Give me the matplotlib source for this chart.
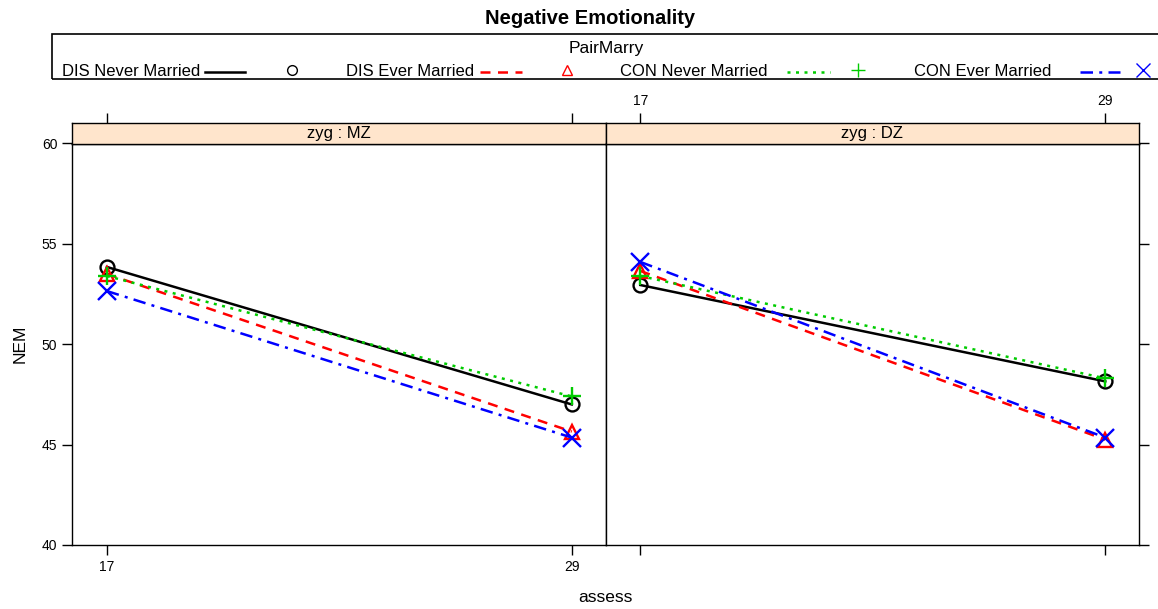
import matplotlib
matplotlib.use("Agg")
import matplotlib.pyplot as plt
from matplotlib.lines import Line2D

plt.rcParams['font.family'] = ['Liberation Sans', 'DejaVu Sans']

assess = [17, 29]
panels = ["zyg : MZ", "zyg : DZ"]
series = ["DIS Never Married", "DIS Ever Married", "CON Never Married", "CON Ever Married"]
mz_values = {
    "DIS Never Married": [53.85, 47.0],
    "DIS Ever Married": [53.5, 45.65],
    "CON Never Married": [53.4, 47.4],
    "CON Ever Married": [52.65, 45.35],
}
dz_values = {
    "DIS Never Married": [52.95, 48.15],
    "DIS Ever Married": [53.65, 45.25],
    "CON Never Married": [53.4, 48.3],
    "CON Ever Married": [54.1, 45.35],
}
yticks = [40, 45, 50, 55, 60]

styles = {
    "DIS Never Married": dict(color="black", ls="-", marker="o"),
    "DIS Ever Married": dict(color="#FF0000", ls=(0, (4, 3)), marker="^"),
    "CON Never Married": dict(color="#00CC00", ls=(0, (1.2, 2.2)), marker="+"),
    "CON Ever Married": dict(color="#0000FF", ls=(0, (5, 2.5, 1.2, 2.5)), marker="x"),
}

W, H = 1158, 609
fig = plt.figure(figsize=(W / 100, H / 100), dpi=100)

def fx(px):
    return px / W

def fy(py):
    return 1 - py / H

top_plot = 143.5
bot_plot = 545
strip_top = 123
panel_x = [(72, 605.5), (605.5, 1139)]
xlim = (16.1, 29.87)

for i, (name, data) in enumerate(zip(panels, [mz_values, dz_values])):
    x0, x1 = panel_x[i]
    ax = fig.add_axes([fx(x0), fy(bot_plot), fx(x1 - x0), (bot_plot - top_plot) / H])
    for s in series:
        st = styles[s]
        ms = 13 if st["marker"] in ("+", "x") else 10
        ax.plot(assess, data[s], color=st["color"], ls=st["ls"], lw=1.8)
        ax.plot(assess, data[s], ls="none", marker=st["marker"], ms=ms, mew=1.7,
                mfc="none", mec=st["color"])
    ax.set_xlim(*xlim)
    ax.set_ylim(40, 60)
    ax.set_yticks(yticks)
    ax.set_xticks(assess)
    for sp in ax.spines.values():
        sp.set_linewidth(1.0)
    ax.tick_params(direction="out", length=7, width=1, labelsize=10)
    if i == 0:
        ax.tick_params(left=True, labelleft=True, right=False, labelright=False,
                       bottom=True, labelbottom=True, top=False, labeltop=False)
    else:
        ax.tick_params(left=False, labelleft=False, right=True, labelright=False,
                       bottom=True, labelbottom=False, top=False, labeltop=False)
    # strip
    sax = fig.add_axes([fx(x0), fy(top_plot), fx(x1 - x0), (top_plot - strip_top) / H])
    sax.set_facecolor("#FFE5CC")
    sax.set_xlim(*xlim)
    sax.set_ylim(0, 1)
    sax.set_yticks([])
    sax.set_xticks(assess)
    sax.tick_params(direction="out", length=7, width=1, labelsize=10,
                    bottom=False, labelbottom=False, top=True, labeltop=(i == 1))
    for sp in sax.spines.values():
        sp.set_linewidth(1.0)
    sax.text(0.5, 0.5, name, transform=sax.transAxes, ha="center", va="center", fontsize=12)

fig.text(fx(20), fy(344), "NEM", rotation=90, ha="center", va="center", fontsize=12.5)
fig.text(fx(605), fy(598), "assess", ha="center", va="center", fontsize=12.5)
fig.text(fx(590), fy(18), "Negative Emotionality", ha="center", va="center",
         fontsize=14.5, fontweight="bold")

# legend box
box = plt.Rectangle((fx(52), fy(79)), fx(1200 - 52), (79 - 34) / H, transform=fig.transFigure,
                    fill=False, lw=1.2, ec="black", clip_on=False)
fig.add_artist(box)
fig.text(fx(606), fy(48), "PairMarry", ha="center", va="center", fontsize=12.5)
legend_layout = [(62, 205, 245, 292), (346, 480, 522, 567), (620, 787, 830, 858), (914, 1080, 1120, 1143)]
ly = 72
for s, (tx, l0, l1, mx) in zip(series, legend_layout):
    st = styles[s]
    fig.text(fx(tx), fy(ly), s, ha="left", va="center", fontsize=12)
    fig.add_artist(Line2D([fx(l0), fx(l1)], [fy(ly), fy(ly)], transform=fig.transFigure,
                          color=st["color"], ls=st["ls"], lw=1.8))
    ms = 10 if st["marker"] in ("+", "x") else 7
    fig.add_artist(Line2D([fx(mx)], [fy(ly - 2)], transform=fig.transFigure, ls="none",
                          marker=st["marker"], ms=ms, mew=1.0, mfc="none", mec=st["color"]))

fig.savefig("out.png", dpi=100)
